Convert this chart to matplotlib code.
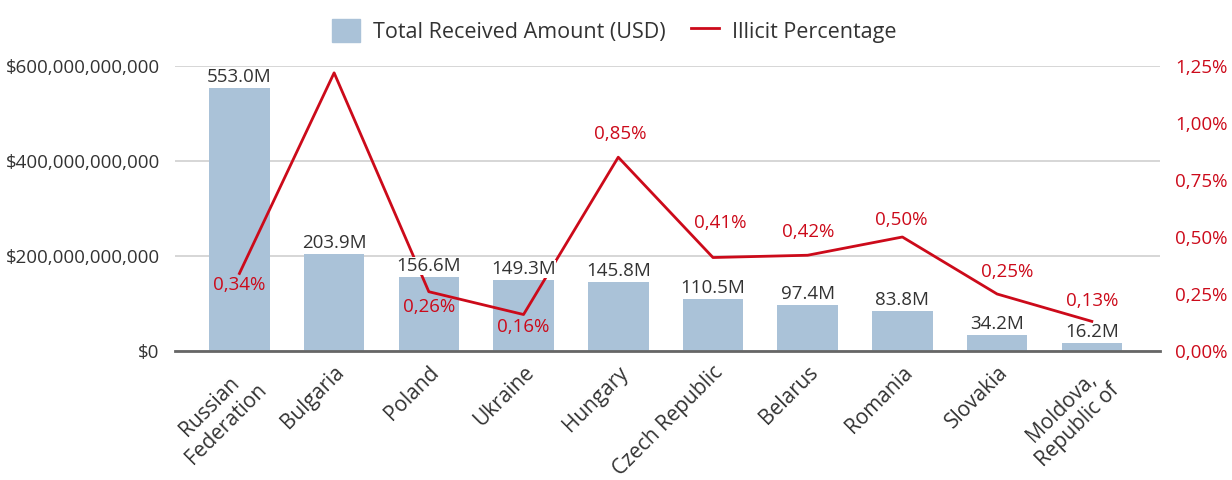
import matplotlib
matplotlib.use('Agg')
import matplotlib.pyplot as plt
from matplotlib.ticker import FuncFormatter, MultipleLocator
from matplotlib.patches import Patch
from matplotlib.lines import Line2D

# data
countries = ['Russian\nFederation', 'Bulgaria', 'Poland', 'Ukraine', 'Hungary',
             'Czech Republic', 'Belarus', 'Romania', 'Slovakia', 'Moldova,\nRepublic of']
received = [553.0e9, 203.9e9, 156.6e9, 149.3e9, 145.8e9, 110.5e9, 97.4e9, 83.8e9, 34.2e9, 16.2e9]
received_labels = ['553.0M', '203.9M', '156.6M', '149.3M', '145.8M',
                   '110.5M', '97.4M', '83.8M', '34.2M', '16.2M']
illicit_pct = [0.34, 1.22, 0.26, 0.16, 0.85, 0.41, 0.42, 0.50, 0.25, 0.13]
pct_labels = ['0,34%', None, '0,26%', '0,16%', '0,85%', '0,41%', '0,42%', '0,50%', '0,25%', '0,13%']

# label offsets (pixels) for the percentage labels
pct_offsets = [(0, -12), (0, 0), (0, -15), (0, -12), (2, 23),
               (7, 35), (1, 23), (-1, 17), (10, 22), (0, 20)]

BAR = '#aac2d8'
RED = '#cc0a1a'
TXT = '#333333'
FONT = 'Open Sans'

plt.rcParams['font.family'] = [FONT, 'DejaVu Sans']

fig = plt.figure(figsize=(12.32, 4.8), dpi=100)
ax = fig.add_axes([175 / 1232, 1 - 351 / 480, 985 / 1232, 285 / 480])
ax2 = ax.twinx()

x = list(range(len(countries)))
ax.bar(x, received, width=0.64, color=BAR, zorder=2)
ax.set_ylim(0, 600e9)
ax.set_xlim(-0.68, 9.72)
ax.yaxis.set_major_locator(MultipleLocator(200e9))
ax.yaxis.set_major_formatter(FuncFormatter(lambda v, p: '${:,.0f}'.format(v)))
ax.grid(axis='y', color='#d0d0d0', linewidth=1.2, zorder=0)
ax.set_axisbelow(True)
for s in ['top', 'left', 'right']:
    ax.spines[s].set_visible(False)
ax.spines['bottom'].set_color('#666666')
ax.spines['bottom'].set_linewidth(2)
ax.spines['bottom'].set_zorder(5)
ax.tick_params(axis='y', length=0, pad=11, labelsize=13.5, labelcolor=TXT)
ax.tick_params(axis='x', length=0, pad=8, labelsize=15, labelcolor=TXT)
ax.set_xticks(x)
ax.set_xticklabels(countries, rotation=45, ha='right', va='top',
                   rotation_mode='anchor', multialignment='center')

ax2.set_ylim(0, 1.25)
ax2.yaxis.set_major_locator(MultipleLocator(0.25))
ax2.yaxis.set_major_formatter(FuncFormatter(lambda v, p: '{:.2f}%'.format(v).replace('.', ',')))
ax2.tick_params(axis='y', length=0, pad=11, labelsize=13.5, labelcolor=RED)
for s in ['top', 'left', 'right', 'bottom']:
    ax2.spines[s].set_visible(False)

ax2.plot(x, illicit_pct, color=RED, linewidth=2, zorder=3, clip_on=False)

for xi, (v, lab) in enumerate(zip(received, received_labels)):
    ax2.annotate(lab, xy=(xi, v / 600e9 * 1.25), xytext=(0, 2), textcoords='offset pixels',
                 ha='center', va='bottom', fontsize=13.5, color=TXT, zorder=6,
                 bbox=dict(boxstyle='square,pad=0.0', fc='white', ec='none'))

for xi, (v, lab, off) in enumerate(zip(illicit_pct, pct_labels, pct_offsets)):
    if lab is None:
        continue
    ax2.annotate(lab, xy=(xi, v), xytext=off, textcoords='offset pixels',
                 ha='center', va='center', fontsize=13.5, color=RED, zorder=7)

handles = [Patch(color=BAR), Line2D([0], [0], color=RED, linewidth=2)]
fig.legend(handles, ['Total Received Amount (USD)', 'Illicit Percentage'],
           loc='center', bbox_to_anchor=(614 / 1232, 1 - 31 / 480), ncol=2, frameon=False,
           fontsize=15.5, handlelength=1.3, handleheight=1.3, columnspacing=1.2,
           handletextpad=0.6, labelcolor=TXT)

fig.savefig('out.png', dpi=100)
